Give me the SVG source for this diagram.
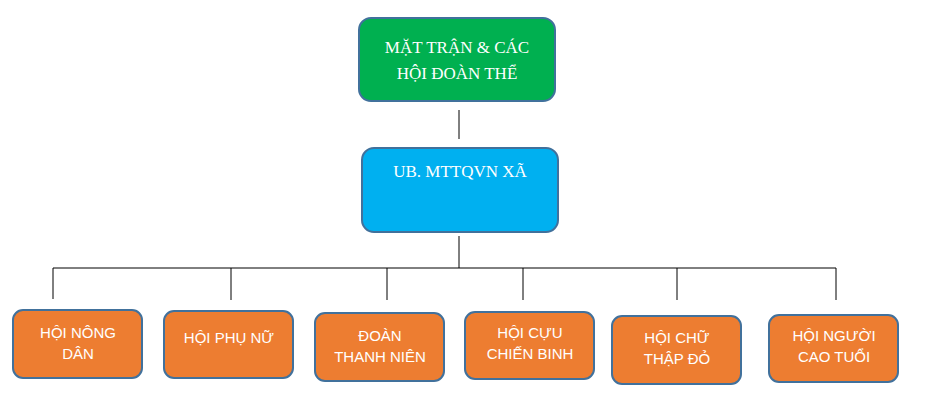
<svg xmlns="http://www.w3.org/2000/svg" width="935" height="402" viewBox="0 0 935 402">
<style>
.b{stroke:#41719C;stroke-width:2}
.g{fill:#00B050}.c{fill:#00B0F0}.o{fill:#ED7D31}
.t{font-family:"Liberation Serif",serif;font-size:17px;fill:#fff;text-anchor:middle}
.s{font-family:"Liberation Sans",sans-serif;font-size:15px;fill:#fff;text-anchor:middle}
.l{stroke:#000;stroke-width:1;fill:none}
</style>
<rect width="935" height="402" fill="#fff"/>
<g id="connectors">
<path class="l" d="M459 110V139M459 236V268M53 268H836M53 268V299M231 268V300M387 268V300M523 268V300M677 268V300M836 268V300"/>
</g>
<g id="n1"><rect class="b g" x="359" y="18" width="196" height="83" rx="12"/><text class="t" x="457" y="53">MẶT TRẬN &amp; CÁC</text><text class="t" x="457" y="79">HỘI ĐOÀN THỂ</text></g>
<g id="n2"><rect class="b c" x="362" y="148" width="196" height="84" rx="12"/><text class="t" x="460" y="177">UB. MTTQVN XÃ</text></g>
<g id="n3"><rect class="b o" x="13" y="310" width="129" height="68" rx="10"/><text class="s" x="78" y="338">HỘI NÔNG</text><text class="s" x="78" y="359">DÂN</text></g>
<g id="n4"><rect class="b o" x="164" y="311" width="129" height="67" rx="10"/><text class="s" x="229" y="343">HỘI PHỤ NỮ</text></g>
<g id="n5"><rect class="b o" x="315" y="313" width="129" height="68" rx="10"/><text class="s" x="380" y="341">ĐOÀN</text><text class="s" x="380" y="362">THANH NIÊN</text></g>
<g id="n6"><rect class="b o" x="465" y="312" width="129" height="67" rx="10"/><text class="s" x="530" y="338">HỘI CỰU</text><text class="s" x="530" y="359">CHIẾN BINH</text></g>
<g id="n7"><rect class="b o" x="612" y="316" width="129" height="68" rx="10"/><text class="s" x="677" y="343">HỘI CHỮ</text><text class="s" x="677" y="364">THẬP ĐỎ</text></g>
<g id="n8"><rect class="b o" x="769" y="315" width="129" height="67" rx="10"/><text class="s" x="834" y="341">HỘI NGƯỜI</text><text class="s" x="834" y="362">CAO TUỔI</text></g>
</svg>
